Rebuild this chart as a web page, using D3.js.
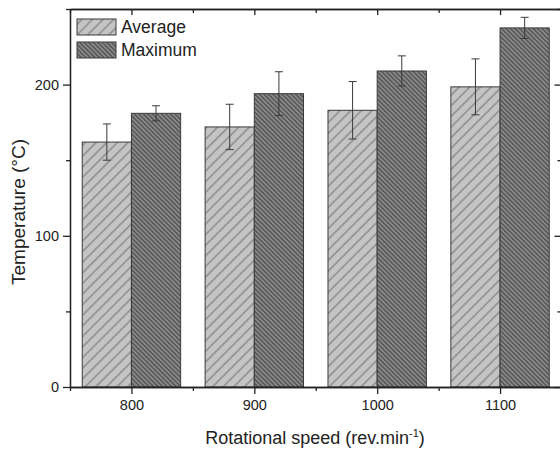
<!DOCTYPE html>
<html>
<head>
<meta charset="utf-8">
<script src="https://cdn.jsdelivr.net/npm/d3@7"></script>
<style>
  body { margin: 0; background: #fff; }
  svg { display: block; font-family: "Liberation Sans", Arial, sans-serif; }
</style>
</head>
<body>
<svg id="chart" width="560" height="450"></svg>
<script>
const speeds = [800, 900, 1000, 1100];
const seriesNames = ["Average", "Maximum"];
const averageTemp = [162, 172, 183, 198.5];
const averageErr = [12, 15, 19, 18.5];
const maximumTemp = [181, 194, 209, 237.5];
const maximumErr = [5, 14.5, 10, 7];
const yTicks = [0, 100, 200];
const yMinorTicks = [50, 150, 250];
const xMinorTicks = [750, 850, 950, 1050, 1150];

const svg = d3.select("#chart");
const plotLeft = 70, plotRight = 561.5, plotTop = 9, plotBottom = 387;

const x = d3.scaleLinear().domain([750, 1150]).range([plotLeft, plotRight]);
const y = d3.scaleLinear().domain([0, 250]).range([plotBottom, plotTop]);
const xSub = d3.scaleBand().domain(seriesNames).range([-49.2, 49.2]);

// hatch patterns
const defs = svg.append("defs");
function hatch(id, size, angle, bg, line, lw) {
  let p = defs.append("pattern")
    .attr("id", id)
    .attr("patternUnits", "userSpaceOnUse")
    .attr("width", size)
    .attr("height", size)
    .attr("patternTransform", "rotate(" + angle + ")");
  p.append("rect").attr("width", size).attr("height", size).attr("fill", bg);
  p.append("line")
    .attr("x1", size / 2).attr("x2", size / 2)
    .attr("y1", 0).attr("y2", size)
    .attr("stroke", line)
    .attr("stroke-width", lw);
}
hatch("hatchAvg", 7.5, 45, "#c4c4c4", "#6f6f6f", 1);
hatch("hatchMax", 3.2, -45, "#8a8a8a", "#4e4e4e", 1.3);

const fills = { Average: "url(#hatchAvg)", Maximum: "url(#hatchMax)" };

const rows = [];
speeds.forEach((s, i) => {
  rows.push({ speed: s, series: "Average", value: averageTemp[i], err: averageErr[i] });
  rows.push({ speed: s, series: "Maximum", value: maximumTemp[i], err: maximumErr[i] });
});

// bars
svg.append("g")
  .selectAll("rect")
  .data(rows)
  .join("rect")
  .attr("x", d => x(d.speed) + xSub(d.series))
  .attr("y", d => y(d.value))
  .attr("width", xSub.bandwidth())
  .attr("height", d => y(0) - y(d.value))
  .attr("fill", d => fills[d.series])
  .attr("stroke", "#3a3a3a")
  .attr("stroke-width", 1);

// error bars
const eb = svg.append("g")
  .attr("stroke", "#3a3a3a")
  .attr("stroke-width", 1)
  .selectAll("g")
  .data(rows)
  .join("g")
  .attr("transform", d => "translate(" + (x(d.speed) + xSub(d.series) + xSub.bandwidth() / 2) + ",0)");
eb.append("line")
  .attr("y1", d => y(d.value - d.err))
  .attr("y2", d => y(d.value + d.err));
eb.append("line")
  .attr("x1", -4).attr("x2", 4)
  .attr("y1", d => y(d.value + d.err))
  .attr("y2", d => y(d.value + d.err));
eb.append("line")
  .attr("x1", -4).attr("x2", 4)
  .attr("y1", d => y(d.value - d.err))
  .attr("y2", d => y(d.value - d.err));

// axes
function styleAxis(g) {
  g.select(".domain").attr("stroke", "#222").attr("stroke-width", 1.3);
  g.selectAll(".tick line").attr("stroke", "#222").attr("stroke-width", 1.3);
  g.selectAll(".tick text")
    .attr("fill", "#222")
    .style("font-size", "14.5px")
    .style("font-family", "'Liberation Sans', Arial, sans-serif");
}

svg.append("g")
  .attr("transform", "translate(0," + plotBottom + ")")
  .call(d3.axisBottom(x).tickValues(speeds).tickFormat(d3.format("d")).tickSize(7).tickPadding(6).tickSizeOuter(0))
  .call(styleAxis);
svg.append("g")
  .attr("transform", "translate(0," + plotBottom + ")")
  .call(d3.axisBottom(x).tickValues(xMinorTicks).tickFormat("").tickSize(4).tickSizeOuter(0))
  .call(styleAxis);

svg.append("g")
  .attr("transform", "translate(0," + plotTop + ")")
  .call(d3.axisTop(x).tickValues(speeds).tickFormat("").tickSize(-6).tickSizeOuter(0))
  .call(styleAxis);
svg.append("g")
  .attr("transform", "translate(0," + plotTop + ")")
  .call(d3.axisTop(x).tickValues(xMinorTicks).tickFormat("").tickSize(-4).tickSizeOuter(0))
  .call(styleAxis);

svg.append("g")
  .attr("transform", "translate(" + plotLeft + ",0)")
  .call(d3.axisLeft(y).tickValues(yTicks).tickSize(7).tickPadding(4).tickSizeOuter(0))
  .call(styleAxis);
svg.append("g")
  .attr("transform", "translate(" + plotLeft + ",0)")
  .call(d3.axisLeft(y).tickValues(yMinorTicks).tickFormat("").tickSize(4).tickSizeOuter(0))
  .call(styleAxis);

svg.append("g")
  .attr("transform", "translate(" + plotRight + ",0)")
  .call(d3.axisRight(y).tickValues(yTicks).tickFormat("").tickSize(-7).tickSizeOuter(0))
  .call(styleAxis);
svg.append("g")
  .attr("transform", "translate(" + plotRight + ",0)")
  .call(d3.axisRight(y).tickValues(yMinorTicks).tickFormat("").tickSize(-4).tickSizeOuter(0))
  .call(styleAxis);

// legend
const legend = svg.append("g")
  .selectAll("g")
  .data(seriesNames)
  .join("g")
  .attr("transform", (d, i) => "translate(77," + (19 + i * 23) + ")");
legend.append("rect")
  .attr("width", 39)
  .attr("height", 16)
  .attr("fill", d => fills[d])
  .attr("stroke", "#3a3a3a")
  .attr("stroke-width", 1);
legend.append("text")
  .attr("x", 44)
  .attr("y", 14)
  .attr("fill", "#222")
  .style("font-size", "17.5px")
  .text(d => d);

// axis titles
const xTitle = svg.append("text")
  .attr("x", 315)
  .attr("y", 444)
  .attr("text-anchor", "middle")
  .attr("fill", "#222")
  .style("font-size", "18px");
xTitle.append("tspan").text("Rotational speed (rev.min");
xTitle.append("tspan").attr("dy", -7).style("font-size", "11px").text("-1");
xTitle.append("tspan").attr("dy", 7).text(")");

svg.append("text")
  .attr("transform", "translate(25,212) rotate(-90)")
  .attr("text-anchor", "middle")
  .attr("fill", "#222")
  .style("font-size", "19px")
  .text("Temperature (°C)");
</script>
</body>
</html>
